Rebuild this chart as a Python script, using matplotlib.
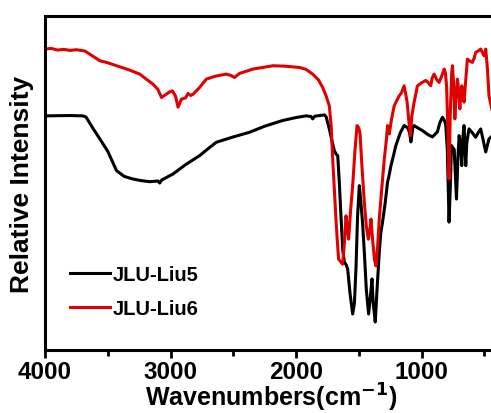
import matplotlib
matplotlib.use("Agg")
import matplotlib.pyplot as plt
from matplotlib.ticker import MultipleLocator, NullLocator

# FTIR spectra: wavenumber (cm^-1) and relative intensity (a.u.)
liu5_wn = [4000, 3800, 3700, 3674, 3620, 3563, 3500, 3430, 3370, 3300, 3230, 3165,
           3100, 3086, 3070, 2980, 2880, 2768, 2700, 2635, 2500, 2370, 2250, 2108,
           2000, 1920, 1880, 1868, 1850, 1774, 1760, 1735, 1710, 1695, 1680, 1668,
           1655, 1641, 1628, 1615, 1600, 1589, 1570, 1549, 1535, 1522, 1510, 1496,
           1485, 1470, 1456, 1440, 1422, 1410, 1395, 1385, 1369, 1355, 1337, 1325,
           1311, 1290, 1271, 1260, 1244, 1225, 1205, 1170, 1139, 1110, 1095, 1085,
           1070, 1059, 1030, 993, 950, 914, 895, 874, 855, 834, 815, 807, 795, 781,
           770, 762, 740, 722, 710, 701, 690, 680, 670, 662, 655, 648, 640, 622, 595,
           569, 550, 529, 510, 489, 463, 440]
liu5_val = [70.1, 70.2, 70.1, 69.8, 66.5, 63.2, 59.5, 53.7, 52.0, 51.2, 50.7, 50.4,
            50.6, 50.0, 50.9, 52.7, 55.5, 58.2, 60.3, 62.2, 63.8, 65.2, 67.0, 68.7,
            69.6, 70.1, 69.9, 69.2, 70.0, 70.4, 69.8, 66.2, 62.0, 59.7, 58.6, 58.2,
            50.0, 39.2, 30.0, 26.3, 25.5, 24.3, 17.0, 10.8, 14.0, 25.0, 40.0, 49.2,
            45.0, 38.0, 29.3, 18.0, 10.8, 15.0, 21.3, 14.0, 8.4, 18.0, 29.3, 35.0,
            38.3, 44.0, 50.3, 52.0, 55.2, 58.0, 61.2, 65.0, 67.2, 66.5, 65.0, 62.3,
            66.5, 67.2, 66.5, 65.7, 64.5, 63.8, 64.5, 65.3, 68.0, 69.7, 68.5, 67.2,
            60.0, 38.3, 50.0, 61.2, 60.0, 45.2, 58.0, 64.2, 62.0, 55.2, 64.0, 67.2,
            62.0, 55.2, 62.0, 66.2, 65.0, 63.7, 65.0, 66.2, 63.0, 59.3, 63.2, 64.0]

liu6_wn = [4000, 3950, 3900, 3850, 3800, 3750, 3700, 3682, 3620, 3563, 3500, 3430,
           3340, 3245, 3190, 3140, 3100, 3072, 3033, 3010, 2985, 2960, 2940, 2913,
           2880, 2860, 2840, 2820, 2768, 2715, 2640, 2556, 2520, 2490, 2450, 2344,
           2250, 2185, 2100, 1973, 1920, 1867, 1820, 1788, 1760, 1735, 1720, 1708,
           1695, 1682, 1670, 1661, 1645, 1629, 1615, 1602, 1590, 1581, 1565, 1549,
           1530, 1514, 1500, 1490, 1475, 1456, 1440, 1424, 1412, 1403, 1390, 1375,
           1363, 1350, 1337, 1318, 1297, 1280, 1271, 1262, 1257, 1240, 1218, 1200,
           1178, 1160, 1139, 1128, 1115, 1100, 1088, 1078, 1060, 1033, 1000, 967,
           950, 927, 915, 900, 880, 860, 840, 820, 810, 801, 790, 781, 772, 760,
           754, 745, 735, 725, 714, 705, 695, 688, 680, 670, 662, 650, 635, 615,
           595, 580, 569, 550, 529, 515, 502, 495, 489, 475, 463, 440]
liu6_val = [90.1, 90.3, 89.8, 90.0, 89.7, 89.9, 89.6, 89.5, 88.0, 86.6, 86.0, 85.1,
            84.0, 82.6, 81.0, 79.6, 78.0, 75.6, 76.6, 77.2, 77.6, 76.0, 72.7, 75.1,
            75.5, 76.8, 76.2, 76.6, 78.6, 81.1, 82.0, 82.6, 82.2, 81.6, 82.8, 84.1,
            84.7, 85.1, 85.0, 84.6, 84.0, 82.6, 80.8, 78.6, 76.0, 73.1, 67.0, 57.2,
            48.0, 39.2, 32.0, 27.2, 26.5, 25.7, 32.0, 40.2, 36.0, 33.2, 42.0, 49.2,
            60.0, 67.2, 66.5, 64.7, 55.0, 44.3, 37.0, 33.2, 36.0, 39.2, 33.0, 27.0,
            25.2, 31.0, 39.2, 48.0, 57.2, 63.0, 67.2, 66.0, 64.7, 69.0, 73.1, 74.5,
            76.1, 77.0, 79.1, 77.0, 74.2, 68.0, 64.2, 70.0, 74.0, 79.1, 80.0, 80.7,
            80.2, 79.1, 81.5, 82.6, 81.0, 80.1, 82.0, 84.1, 83.0, 79.1, 66.0, 51.2,
            70.0, 83.0, 85.1, 80.0, 69.2, 76.0, 81.1, 78.0, 72.2, 76.0, 79.1, 77.0,
            74.2, 80.0, 87.1, 86.5, 86.1, 87.5, 89.1, 89.5, 90.1, 89.0, 88.1, 89.0,
            90.1, 84.0, 76.1, 72.0]

series = [("JLU-Liu5", liu5_wn, liu5_val, "black"),
          ("JLU-Liu6", liu6_wn, liu6_val, "#e00000")]

plt.rcParams["font.family"] = ["Liberation Sans", "DejaVu Sans"]
plt.rcParams["font.weight"] = "bold"
plt.rcParams["mathtext.default"] = "bf"

fig = plt.figure(figsize=(4.91, 4.14), dpi=100)
ax = fig.add_axes([0.0916, 0.152, 1.012 - 0.0916, 0.959 - 0.152])

for name, wn, val, col in series:
    ax.plot(wn, val, color=col, lw=2.2, label=name, solid_joinstyle="round")

ax.set_xlim(4000, 400)
ax.set_ylim(0, 100)

ax.xaxis.set_major_locator(MultipleLocator(1000))
ax.xaxis.set_minor_locator(MultipleLocator(500))
ax.yaxis.set_major_locator(NullLocator())
ax.tick_params(axis="x", which="major", direction="out", length=6, width=2,
               labelsize=17.5, pad=1)
ax.tick_params(axis="x", which="minor", direction="out", length=4, width=2)
for lab in ax.get_xticklabels():
    lab.set_fontweight("bold")
for sp in ax.spines.values():
    sp.set_linewidth(2.2)

ax.set_xlabel("Wavenumbers(cm$^{-1}$)", fontsize=18, fontweight="bold",
              labelpad=-1.2)
ax.set_ylabel("Relative Intensity", fontsize=19, fontweight="bold", labelpad=8)

leg = ax.legend(loc="lower left", bbox_to_anchor=(0.015, 0.042), frameon=False,
                prop={"size": 14.5, "weight": "bold"}, handlelength=2.0,
                handletextpad=0.15, labelspacing=0.75)

fig.savefig("out.png", dpi=100)
